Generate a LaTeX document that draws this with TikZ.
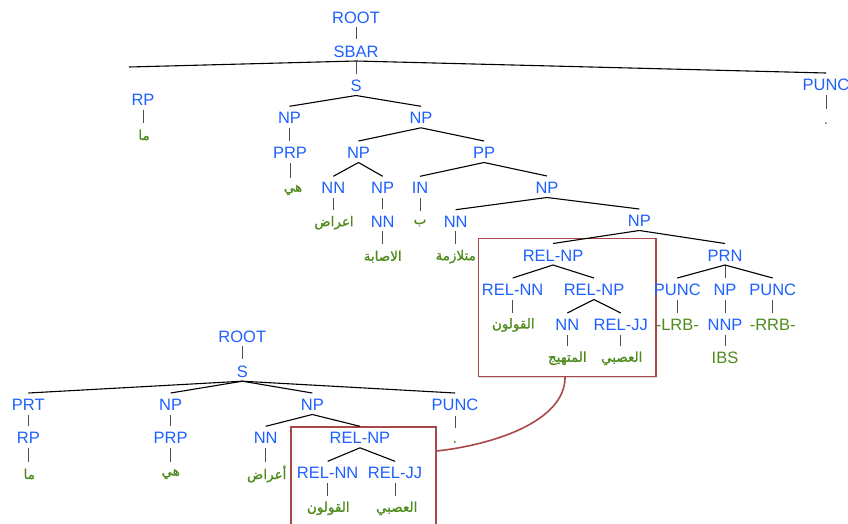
\documentclass[tikz,border=0pt]{standalone}
\usepackage{fontspec}
\usetikzlibrary{calc,shadows}
\TeXXeTstate=1
\newfontfamily\labfont{Liberation Sans}
\newfontfamily\arfont[Script=Arabic,FakeBold=1.2]{DejaVu Sans}
\definecolor{lblue}{RGB}{30,96,255}
\definecolor{lgreen}{RGB}{78,138,28}
\definecolor{boxred}{RGB}{168,72,72}
\tikzset{
  cat/.style={font=\labfont\fontsize{16.5}{18}\selectfont, text=lblue, inner sep=0pt},
  wrd/.style={font=\labfont\fontsize{16.5}{18}\selectfont, text=lgreen, inner sep=0pt},
  ar/.style={font=\arfont\fontsize{13.5}{16}\selectfont, text=lgreen, inner sep=0pt},
  br/.style={draw=black, line width=1.1pt},
  un/.style={draw=black!70, line width=0.8pt},
  redbox/.style={draw=boxred, line width=1.6pt, fill=white, inner sep=0pt,
    drop shadow={shadow xshift=1pt, shadow yshift=-1.5pt, opacity=0.25}},
  curveline/.style={draw=boxred, line width=1.6pt}
}
\newcommand\brE[2]{\draw[br] ([yshift=-9.5pt]#1.center) -- ([yshift=12pt]#2.center);}
\newcommand\unE[2]{\draw[un] ($(#1.center)+(0,9.5)$) -- ($(#1.center |- #2.center)+(0,-12.5)$);}
\begin{document}
\begin{tikzpicture}[x=1pt,y=-1pt]
\useasboundingbox (0,0) rectangle (848,523);
\clip (0,0) rectangle (848,523);
% boxes
\node[redbox, anchor=north west, minimum width=177.5pt, minimum height=138pt] (box1) at (477.5,237.5) {};
\node[redbox, anchor=north west, minimum width=145pt, minimum height=120pt] (box2) at (290,426) {};
% top tree
\node[cat] (root1) at (356,17.5) {ROOT};
\node[cat] (sbar) at (356,51.5) {SBAR};
\node[cat] (s1) at (356,86) {S};
\node[cat] (rp1) at (143,100) {RP};
\node[ar] (ma1) at (144,135) {\beginR ما\endR};
\node[cat] (punc1) at (826,85) {PUNC};
\node[wrd] (dot1) at (826,123.5) {.};
\node[cat] (np1) at (289.5,118.3) {NP};
\node[cat] (np2) at (421,118.3) {NP};
\node[cat] (prp1) at (290,153.3) {PRP};
\node[ar] (hiya1) at (293,190) {\beginR هي\endR};
\node[cat] (np3) at (358.5,153) {NP};
\node[cat] (pp) at (484,153) {PP};
\node[cat] (nn1) at (333.3,188.3) {NN};
\node[ar] (aarad1) at (334,222.7) {\beginR اعراض\endR};
\node[cat] (np4) at (382.7,188.3) {NP};
\node[cat] (nn2) at (382.7,221.7) {NN};
\node[ar] (isaba) at (382.7,256.7) {\beginR الاصابة\endR};
\node[cat] (in) at (420,188.3) {IN};
\node[ar] (b) at (420,223) {\beginR ب\endR};
\node[cat] (np5) at (547,188) {NP};
\node[cat] (nn3) at (455.7,221.7) {NN};
\node[ar] (mutala) at (455.7,256.7) {\beginR متلازمة\endR};
\node[cat] (np6) at (639.3,221) {NP};
\node[cat] (relnp1) at (553,255.5) {REL-NP};
\node[cat] (relnn1) at (512.7,290) {REL-NN};
\node[ar] (qulun1) at (513.3,325) {\beginR القولون\endR};
\node[cat] (relnp2) at (594,290) {REL-NP};
\node[cat] (nn4) at (567.3,325) {NN};
\node[ar] (mutah) at (567.3,358.3) {\beginR المتهيج\endR};
\node[cat] (reljj1) at (620.7,325) {REL-JJ};
\node[ar] (asabi1) at (621.7,358.3) {\beginR العصبي\endR};
\node[cat] (prn) at (725,255.5) {PRN};
\node[cat] (punc2) at (677.3,290) {PUNC};
\node[cat] (np7) at (725,290) {NP};
\node[cat] (punc3) at (772.7,290) {PUNC};
\node[wrd] (lrb) at (677.3,325) {-LRB-};
\node[cat] (nnp) at (725,325) {NNP};
\node[wrd] (rrb) at (772.7,325) {-RRB-};
\node[wrd] (ibs) at (725,358.3) {IBS};
% bottom tree
\node[cat] (root2) at (242.3,336.7) {ROOT};
\node[cat] (s2) at (242.3,371.7) {S};
\node[cat] (prt) at (28.3,405) {PRT};
\node[cat] (rp2) at (28.3,438.3) {RP};
\node[ar] (ma2) at (29.3,474) {\beginR ما\endR};
\node[cat] (np8) at (170.7,405) {NP};
\node[cat] (prp2) at (170.7,438.3) {PRP};
\node[ar] (hiya2) at (170.7,474) {\beginR هي\endR};
\node[cat] (np9) at (312.3,405) {NP};
\node[cat] (nn5) at (265.7,438.3) {NN};
\node[ar] (aarad2) at (266.7,474) {\beginR أعراض\endR};
\node[cat] (relnp3) at (360,438.3) {REL-NP};
\node[cat] (relnn2) at (327.7,473.3) {REL-NN};
\node[ar] (qulun2) at (328.3,508.3) {\beginR القولون\endR};
\node[cat] (reljj2) at (395,473.3) {REL-JJ};
\node[ar] (asabi2) at (396.7,508.3) {\beginR العصبي\endR};
\node[cat] (punc4) at (455,405) {PUNC};
\node[wrd] (dot2) at (455,443) {.};
% top tree edges
\unE{root1}{sbar}
\draw[br] ([yshift=-9.5pt]sbar.center) -- ([xshift=-14pt,yshift=33pt]rp1.center);
\draw[br] ([yshift=-9.5pt]sbar.center) -- ([yshift=12pt]punc1.center);
\unE{sbar}{s1}
\unE{rp1}{ma1}
\draw[un] ([yshift=-10pt]punc1.center) -- ([yshift=15pt]dot1.center);
\brE{s1}{np1} \brE{s1}{np2}
\unE{np1}{prp1} \unE{prp1}{hiya1}
\brE{np2}{np3} \brE{np2}{pp}
\brE{np3}{nn1} \brE{np3}{np4}
\unE{nn1}{aarad1} \unE{np4}{nn2} \unE{nn2}{isaba}
\brE{pp}{in} \brE{pp}{np5}
\unE{in}{b}
\brE{np5}{nn3} \brE{np5}{np6}
\unE{nn3}{mutala}
\brE{np6}{relnp1} \brE{np6}{prn}
\brE{relnp1}{relnn1} \brE{relnp1}{relnp2}
\unE{relnn1}{qulun1}
\brE{relnp2}{nn4} \brE{relnp2}{reljj1}
\unE{nn4}{mutah} \unE{reljj1}{asabi1}
\brE{prn}{punc2} \unE{prn}{np7} \brE{prn}{punc3}
\unE{punc2}{lrb} \unE{np7}{nnp} \unE{punc3}{rrb} \unE{nnp}{ibs}
% bottom tree edges
\unE{root2}{s2}
\brE{s2}{prt} \brE{s2}{np8} \brE{s2}{np9} \brE{s2}{punc4}
\unE{prt}{rp2} \unE{rp2}{ma2}
\unE{np8}{prp2} \unE{prp2}{hiya2}
\brE{np9}{nn5} \brE{np9}{relnp3}
\unE{nn5}{aarad2}
\brE{relnp3}{relnn2} \brE{relnp3}{reljj2}
\unE{relnn2}{qulun2} \unE{reljj2}{asabi2}
\draw[un] ([yshift=-11pt]punc4.center) -- ([yshift=15pt]dot2.center);
% link curve
\draw[curveline] ([xshift=-2pt]box1.south) .. controls +(0,45) and +(55,-6) .. ([yshift=-25pt]box2.north east);
\end{tikzpicture}
\end{document}
